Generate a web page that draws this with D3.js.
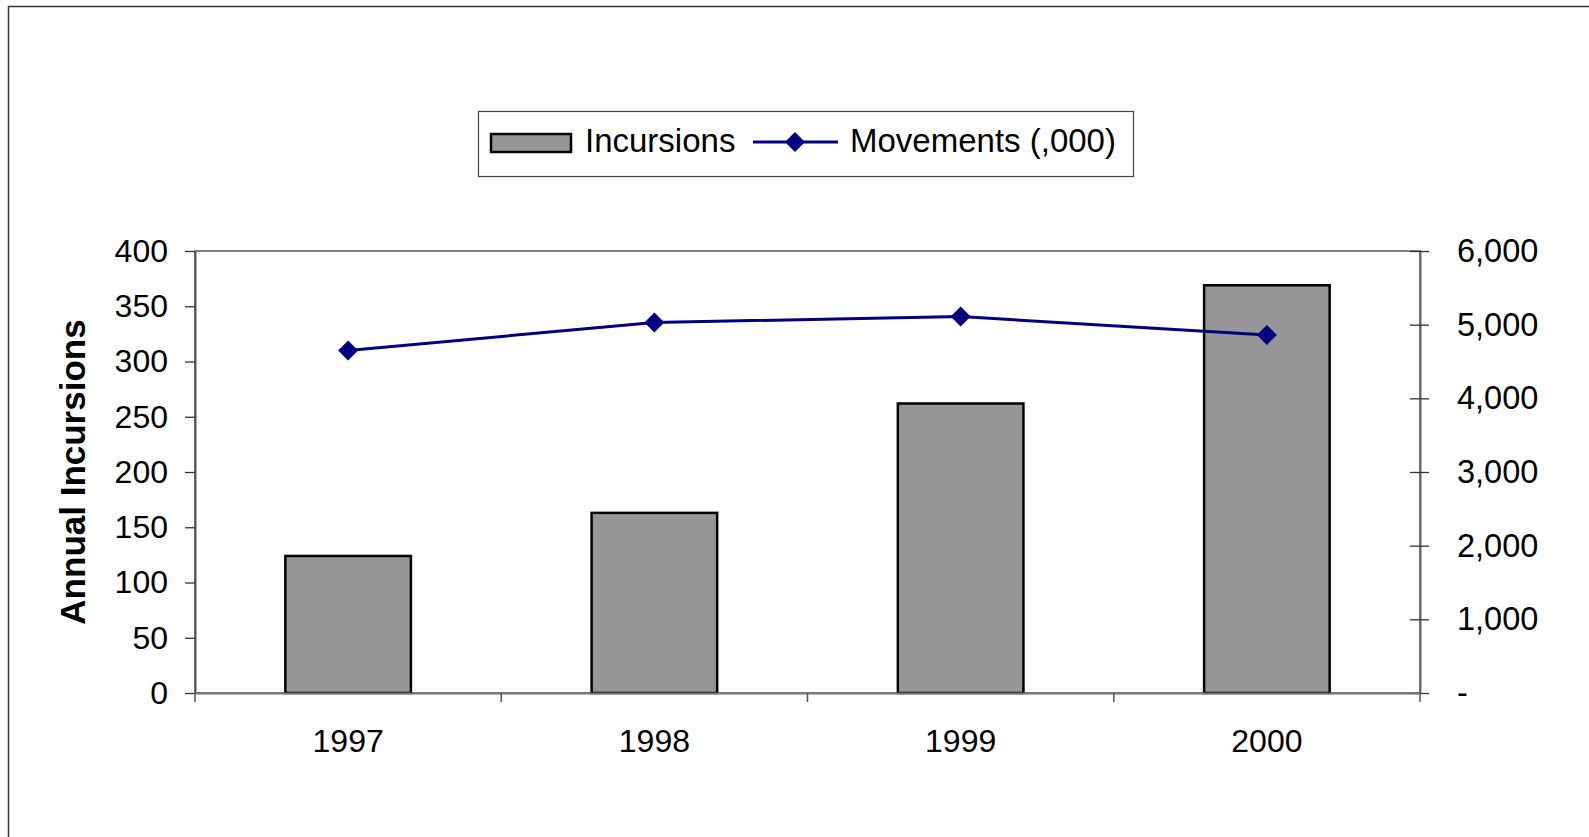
<!DOCTYPE html>
<html>
<head>
<meta charset="utf-8">
<script src="https://cdn.jsdelivr.net/npm/d3@7"></script>
<style>
  body { margin: 0; background: #fff; }
  svg text { font-family: Arial, "Liberation Sans", sans-serif; fill: #000; }
</style>
</head>
<body>
<svg id="chart" width="1589" height="837"></svg>
<script>
// data
var years = ["1997", "1998", "1999", "2000"];
var incursions = [124, 163, 262, 369];
var movements = [4650, 5030, 5110, 4860];
var leftTicks = [0, 50, 100, 150, 200, 250, 300, 350, 400];
var rightTicks = [0, 1000, 2000, 3000, 4000, 5000, 6000];

var svg = d3.select("#chart");

// outer frame of the chart (right and bottom edges fall off the picture)
svg.append("rect")
    .attr("x", 8.5).attr("y", 6.5)
    .attr("width", 1600).attr("height", 850)
    .attr("fill", "none")
    .attr("stroke", "#333")
    .attr("stroke-width", 1.5);

var plot = {left: 195, right: 1420, top: 251, bottom: 693};

// scales
var xScale = d3.scaleBand().domain(years).range([plot.left, plot.right]).padding(0);
var barScale = d3.scaleBand().domain(years).range([plot.left, plot.right])
    .paddingInner(0.59).paddingOuter(0.295);
var yLeft = d3.scaleLinear().domain([0, 400]).range([plot.bottom, plot.top]);
var yRight = d3.scaleLinear().domain([0, 6000]).range([plot.bottom, plot.top]);

// plot area border
svg.append("rect")
    .attr("x", plot.left).attr("y", plot.top)
    .attr("width", plot.right - plot.left).attr("height", plot.bottom - plot.top)
    .attr("fill", "none")
    .attr("stroke", "#808080")
    .attr("stroke-width", 2);

// bars
svg.append("g").selectAll("rect")
    .data(years)
    .enter()
    .append("rect")
    .attr("x", d => barScale(d))
    .attr("width", barScale.bandwidth())
    .attr("y", (d, i) => yLeft(incursions[i]))
    .attr("height", (d, i) => yLeft(0) - yLeft(incursions[i]))
    .attr("fill", "#969696")
    .attr("stroke", "#000")
    .attr("stroke-width", 2.5);

// left axis
var leftAxis = svg.append("g")
    .attr("transform", `translate(${plot.left}, 0)`)
    .call(d3.axisLeft(yLeft).tickValues(leftTicks).tickSizeInner(10).tickSizeOuter(0).tickPadding(17));
leftAxis.select(".domain").attr("stroke", "#555").attr("stroke-width", 2);
leftAxis.selectAll(".tick line").attr("stroke", "#333").attr("stroke-width", 1.3);
leftAxis.selectAll("text").style("font-size", "32px");

// right axis, ticks cross the line
var rightAxis = svg.append("g")
    .attr("transform", `translate(${plot.right}, 0)`)
    .call(d3.axisRight(yRight).tickValues(rightTicks).tickSizeInner(9).tickSizeOuter(0).tickPadding(28)
        .tickFormat(d => d === 0 ? "-" : d3.format(",")(d)));
rightAxis.select(".domain").attr("stroke", "#666").attr("stroke-width", 2);
rightAxis.selectAll(".tick line").attr("x1", -10).attr("stroke", "#333").attr("stroke-width", 1.3);
rightAxis.selectAll("text").style("font-size", "32.5px");

// bottom axis: labels at the centres, ticks at the category borders
var bottomAxis = svg.append("g")
    .attr("transform", `translate(0, ${plot.bottom})`)
    .call(d3.axisBottom(xScale).tickSize(0).tickPadding(36));
bottomAxis.select(".domain").attr("stroke", "#777").attr("stroke-width", 2);
bottomAxis.selectAll("text").style("font-size", "32px");

var borders = years.map(d => xScale(d)).concat([plot.right]);
bottomAxis.selectAll(".border")
    .data(borders)
    .enter()
    .append("line")
    .attr("x1", d => d).attr("x2", d => d)
    .attr("y1", 0).attr("y2", 9)
    .attr("stroke", "#555")
    .attr("stroke-width", 1.5);

// movements line
var line = d3.line()
    .x((d, i) => xScale(years[i]) + xScale.bandwidth() / 2)
    .y(d => yRight(d));

svg.append("path")
    .datum(movements)
    .attr("d", line)
    .attr("fill", "none")
    .attr("stroke", "#000080")
    .attr("stroke-width", 3);

var diamond = d3.symbol().type(d3.symbolSquare).size(200);
svg.append("g").selectAll("path")
    .data(movements)
    .enter()
    .append("path")
    .attr("d", diamond)
    .attr("transform", (d, i) => `translate(${xScale(years[i]) + xScale.bandwidth() / 2}, ${yRight(d)}) rotate(45)`)
    .attr("fill", "#000080");

// y axis title
svg.append("text")
    .attr("transform", "rotate(-90)")
    .attr("x", -(plot.top + plot.bottom) / 2)
    .attr("y", 85)
    .style("text-anchor", "middle")
    .style("font-size", "35px")
    .style("font-weight", "bold")
    .text("Annual Incursions");

// legend
var legend = svg.append("g");
legend.append("rect")
    .attr("x", 478.5).attr("y", 111.5)
    .attr("width", 655).attr("height", 65)
    .attr("fill", "#fff")
    .attr("stroke", "#444")
    .attr("stroke-width", 1.2);
legend.append("rect")
    .attr("x", 491).attr("y", 134)
    .attr("width", 80).attr("height", 18)
    .attr("fill", "#969696")
    .attr("stroke", "#000")
    .attr("stroke-width", 2.5);
legend.append("text")
    .attr("x", 585).attr("y", 152)
    .style("font-size", "33px")
    .text("Incursions");
legend.append("line")
    .attr("x1", 753).attr("x2", 838)
    .attr("y1", 142).attr("y2", 142)
    .attr("stroke", "#000080")
    .attr("stroke-width", 3);
legend.append("path")
    .attr("d", diamond)
    .attr("transform", "translate(795, 142) rotate(45)")
    .attr("fill", "#000080");
legend.append("text")
    .attr("x", 850).attr("y", 152)
    .style("font-size", "33px")
    .text("Movements (,000)");
</script>
</body>
</html>
